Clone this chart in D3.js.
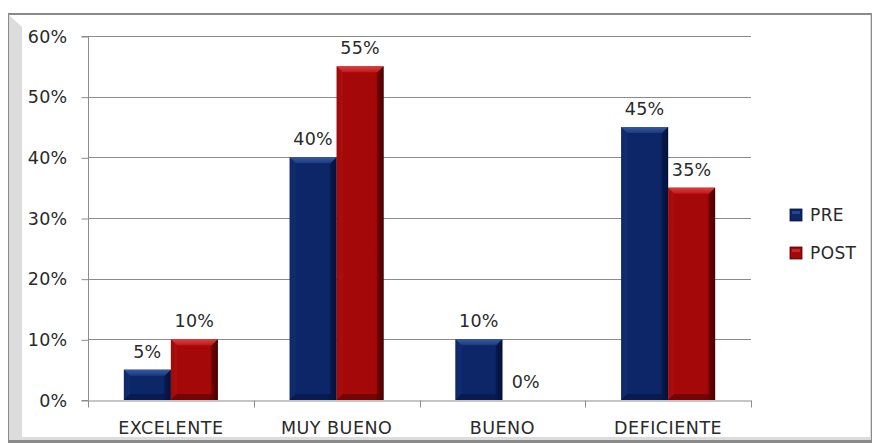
<!DOCTYPE html>
<html><head><meta charset="utf-8">
<script src="https://cdn.jsdelivr.net/npm/d3@7/dist/d3.min.js"></script>
<style>body{margin:0;background:#fff}svg{display:block}</style>
</head><body>
<svg id="c" width="872" height="443"></svg>
<script>
const categories = ["EXCELENTE", "MUY BUENO", "BUENO", "DEFICIENTE"];
const seriesNames = ["PRE", "POST"];
const pre = [0.05, 0.40, 0.10, 0.45];
const post = [0.10, 0.55, 0.00, 0.35];
const yTicks = [0, 0.1, 0.2, 0.3, 0.4, 0.5, 0.6];

(function(){
const svg = d3.select("#c");
const font = "DejaVu Sans, Verdana, sans-serif";
const txtCol = "#2a2a2a";

// frame
svg.append("rect").attr("x",8).attr("y",13).attr("width",864).attr("height",430).attr("fill","#8a8a8a");
svg.append("rect").attr("x",9).attr("y",15).attr("width",862).attr("height",425).attr("fill","#dcdcdc");
svg.append("path").attr("d","M22,27 L22,437 L870,437 L870,15 L22,15 Z").attr("fill","#fff");
svg.append("path").attr("d","M9,15 L22,27 L22,15 Z").attr("fill","#fff");

const pL = 88, pR = 751, pT = 36, pB = 400;
const x = d3.scaleBand().domain(categories).range([pL, pR]).paddingInner(0).paddingOuter(0);
const xs = d3.scaleBand().domain(seriesNames).range([0, 94]);
const y = d3.scaleLinear().domain([0, 0.6]).range([pB, pT]);

// gridlines
svg.append("g").selectAll("line").data(yTicks.filter(d=>d>0)).join("line")
  .attr("x1", pL).attr("x2", pR).attr("y1", d=>Math.round(y(d))+0.5).attr("y2", d=>Math.round(y(d))+0.5)
  .attr("stroke", "#8c8c8c").attr("stroke-width", 1);

// y axis
const yAxis = d3.axisLeft(y).tickValues(yTicks).tickFormat(d3.format(".0%")).tickSize(7).tickPadding(14);
const gy = svg.append("g").attr("transform", `translate(${pL+0.5},0.5)`).call(yAxis);
gy.selectAll("path,line").attr("stroke", "#8c8c8c");
gy.select(".domain").attr("d", `M-7,${y(0.6)}H0V${y(0)}H-7`);
gy.selectAll("text").attr("font-family", font).attr("font-size", 17.5).attr("fill", txtCol).attr("letter-spacing", 0.3);

// x axis
const xAxis = d3.axisBottom(x).tickSize(0).tickPadding(0);
const gx = svg.append("g").attr("transform", `translate(0,${Math.round(pB)+0.5})`).call(xAxis);
gx.select(".domain").attr("stroke", "#8c8c8c");
gx.selectAll(".tick text").attr("font-family", font).attr("font-size", 17.5).attr("fill", txtCol)
  .attr("letter-spacing", 0.5).attr("dy", 0).attr("y", 33);
const bounds = categories.map(c => x(c)).concat([pR]);
gx.selectAll(".bt").data(bounds).join("line").attr("class","bt")
  .attr("x1", d=>Math.round(d)+0.5).attr("x2", d=>Math.round(d)+0.5).attr("y1",0).attr("y2",7).attr("stroke","#8c8c8c");

// gradients
const defs = svg.append("defs");
const palettes = {
  PRE: {base:"#0c2668", light:"#3a5a9e", mid:"#1a3a80", dark:"#04123a", side:"#0a1f58"},
  POST:{base:"#a50808", light:"#d84040", mid:"#c01818", dark:"#4a0000", side:"#8a0505"}
};
seriesNames.forEach(s=>{
  const p = palettes[s];
  const g = defs.append("linearGradient").attr("id","g"+s).attr("x1",0).attr("x2",1).attr("y1",0).attr("y2",0);
  g.append("stop").attr("offset","0%").attr("stop-color",p.side);
  g.append("stop").attr("offset","12%").attr("stop-color",p.base);
  g.append("stop").attr("offset","82%").attr("stop-color",p.base);
  g.append("stop").attr("offset","100%").attr("stop-color",p.dark);
  const t = defs.append("linearGradient").attr("id","t"+s).attr("x1",0).attr("x2",0).attr("y1",0).attr("y2",1);
  t.append("stop").attr("offset","0%").attr("stop-color",p.light);
  t.append("stop").attr("offset","100%").attr("stop-color",p.mid);
});

const data = [];
categories.forEach((c,i)=>{
  data.push({cat:c, s:"PRE", v:pre[i]});
  data.push({cat:c, s:"POST", v:post[i]});
});

const bars = svg.append("g").selectAll("g").data(data).join("g");
bars.each(function(d){
  const g = d3.select(this);
  const x0 = x(d.cat) + x.bandwidth()/2 - 47 + xs(d.s);
  const w = xs.bandwidth();
  const y0 = y(d.v), y1 = y(0);
  const h = y1 - y0;
  const p = palettes[d.s];
  if (h > 0.5) {
    const b = Math.min(6, h/2);
    g.append("rect").attr("x",x0).attr("y",y0).attr("width",w).attr("height",h).attr("fill",`url(#g${d.s})`);
    g.append("path").attr("d",`M${x0},${y0}L${x0+w},${y0}L${x0+w-b},${y0+b}L${x0+b},${y0+b}Z`).attr("fill",`url(#t${d.s})`);
    g.append("path").attr("d",`M${x0},${y1}L${x0+w},${y1}L${x0+w-b},${y1-b}L${x0+b},${y1-b}Z`).attr("fill",p.dark).attr("opacity",0.5);
    g.append("path").attr("d",`M${x0+w},${y0}L${x0+w},${y1}L${x0+w-b},${y1-b}L${x0+w-b},${y0+b}Z`).attr("fill",p.dark).attr("opacity",0.5);
    g.append("path").attr("d",`M${x0},${y0}L${x0},${y1}L${x0+b},${y1-b}L${x0+b},${y0+b}Z`).attr("fill",p.mid).attr("opacity",0.35);
  }
  g.append("text").attr("x", x0 + w/2).attr("y", y0 - 12).attr("text-anchor","middle")
    .attr("font-family", font).attr("font-size", 17.5).attr("letter-spacing", 0.3).attr("fill",txtCol).text(d3.format(".0%")(d.v));
});

// legend
const lg = svg.append("g");
seriesNames.forEach((s,i)=>{
  const p = palettes[s];
  const yy = 209 + i*38;
  lg.append("rect").attr("x",790).attr("y",yy).attr("width",12).attr("height",12).attr("fill",p.base).attr("stroke",p.dark).attr("stroke-width",0.8);
  lg.append("rect").attr("x",792).attr("y",yy+2).attr("width",8).attr("height",3).attr("fill",p.light).attr("opacity",0.6);
  lg.append("text").attr("x",810).attr("y",yy+12).attr("font-family",font).attr("font-size",17).attr("letter-spacing",0.4).attr("fill",txtCol).text(s);
});
})();
</script>
</body></html>
